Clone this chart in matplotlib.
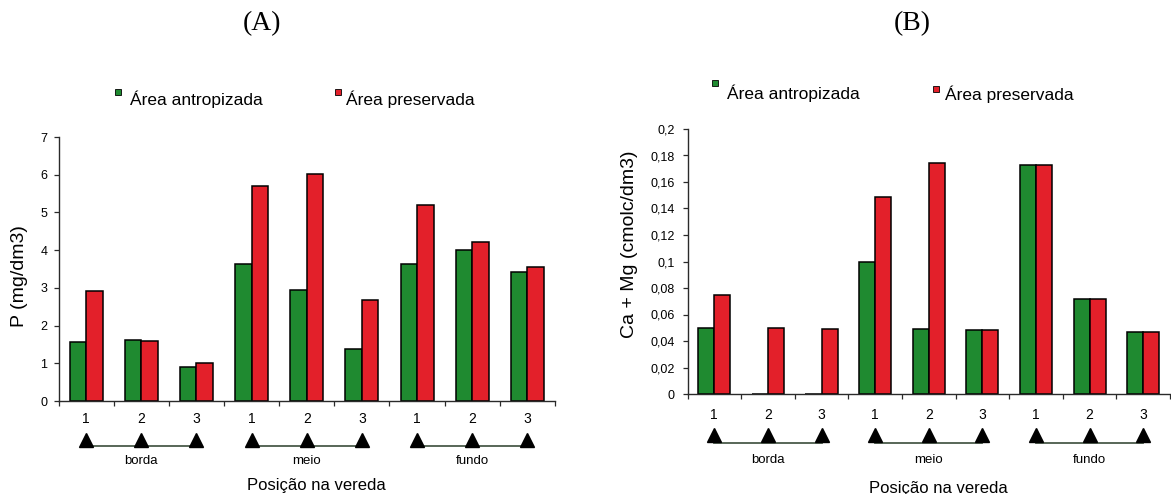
import numpy as np
import matplotlib
matplotlib.use("Agg")
import matplotlib.pyplot as plt
from matplotlib.patches import Rectangle
from matplotlib.transforms import blended_transform_factory

# ---------------- data ----------------
positions = ["1", "2", "3", "1", "2", "3", "1", "2", "3"]
groups = ["borda", "meio", "fundo"]
series_names = ["Área antropizada", "Área preservada"]

p_antropizada = [1.57, 1.63, 0.89, 3.63, 2.95, 1.38, 3.64, 4.01, 3.43]
p_preservada = [2.92, 1.59, 1.00, 5.69, 6.01, 2.69, 5.19, 4.22, 3.54]

camg_antropizada = [0.050, 0.0, 0.0, 0.100, 0.049, 0.048, 0.173, 0.072, 0.047]
camg_preservada = [0.075, 0.050, 0.049, 0.149, 0.174, 0.048, 0.173, 0.072, 0.047]

p_yticks = [0, 1, 2, 3, 4, 5, 6, 7]
camg_yticks = [0, 0.02, 0.04, 0.06, 0.08, 0.1, 0.12, 0.14, 0.16, 0.18, 0.2]
camg_yticklabels = ["0", "0,02", "0,04", "0,06", "0,08", "0,1", "0,12", "0,14",
                    "0,16", "0,18", "0,2"]

# ---------------- style ----------------
W, H = 1171, 494
GREEN = "#1f8a30"
RED = "#e3202a"
AXC = "#2a2a2a"
plt.rcParams["font.family"] = ["Liberation Sans", "DejaVu Sans"]

fig = plt.figure(figsize=(W / 100, H / 100), dpi=100)
fig.patch.set_facecolor("white")


def fx(px):
    return px / W


def fy(py):
    return (H - py) / H


def make_panel(rect_px, a_vals, b_vals, yticks, yticklabels, ylim, ylabel,
               ylabel_xy, tick_pad, ytick_pad, tri_y, line_y, grp_y, xlabel_xy,
               title, title_x, legend_px):
    x0, x1, y_top, y_zero = rect_px
    ax = fig.add_axes([fx(x0), fy(y_zero), fx(x1 - x0), (y_zero - y_top) / H])
    x = np.arange(len(positions))
    bw = 0.3
    ax.bar(x - bw / 2, a_vals, bw, color=GREEN, edgecolor="black", linewidth=1.1)
    ax.bar(x + bw / 2, b_vals, bw, color=RED, edgecolor="black", linewidth=1.1)
    ax.set_xlim(-0.5, len(positions) - 0.5)
    ax.set_ylim(*ylim)
    for s in ["top", "right"]:
        ax.spines[s].set_visible(False)
    for s in ["left", "bottom"]:
        ax.spines[s].set_color(AXC)
        ax.spines[s].set_linewidth(1.0)
    ax.set_yticks(yticks)
    ax.set_yticklabels(yticklabels)
    ax.tick_params(axis="y", direction="out", length=3.5, width=0.9,
                   colors=AXC, labelcolor="black", labelsize=9, pad=ytick_pad)
    ax.set_xticks(np.arange(-0.5, len(positions), 1.0))
    ax.set_xticklabels([])
    ax.tick_params(axis="x", which="major", direction="out", length=3.5,
                   width=0.9, colors=AXC)
    ax.set_xticks(x, minor=True)
    ax.set_xticklabels(positions, minor=True)
    ax.tick_params(axis="x", which="minor", length=0, labelsize=10,
                   pad=tick_pad)

    tr = blended_transform_factory(ax.transData, fig.transFigure)
    for gi, g in enumerate(groups):
        idx = x[gi * 3:(gi + 1) * 3]
        ax.plot([idx[0], idx[-1]], [fy(line_y), fy(line_y)], color="#4a5a4a",
                lw=1.3, transform=tr, clip_on=False)
        ax.plot(idx, [fy(tri_y)] * len(idx), linestyle="none", marker="^",
                ms=10, color="black", transform=tr, clip_on=False)
        ax.text(idx[1], fy(grp_y), g, transform=tr, ha="center", va="center",
                fontsize=9.5)

    fig.text(fx(xlabel_xy[0]), fy(xlabel_xy[1]), "Posição na vereda",
             ha="center", va="center", fontsize=12)
    fig.text(fx(ylabel_xy[0]), fy(ylabel_xy[1]), ylabel, rotation=90,
             ha="center", va="center", fontsize=14)
    fig.text(fx(title_x), fy(24), title, ha="center", va="center",
             fontsize=20, family=["Liberation Serif", "DejaVu Serif"])

    # legend
    for (sq_x, sq_y, tx, base), name, col in zip(legend_px, series_names,
                                                  [GREEN, RED]):
        fig.patches.append(Rectangle((fx(sq_x), fy(sq_y + 6)), fx(6), 6 / H,
                                     facecolor=col, edgecolor="black",
                                     linewidth=0.6, transform=fig.transFigure))
        fig.text(fx(tx), fy(base), name, ha="left", va="baseline",
                 fontsize=12.5)
    return ax


make_panel((58.5, 555, 137, 401), p_antropizada, p_preservada, p_yticks,
           [str(v) for v in p_yticks], (0, 7), "P (mg/dm3)", (20, 276),
           tick_pad=8.0, ytick_pad=4.5, tri_y=440, line_y=446, grp_y=461,
           xlabel_xy=(316, 485), title="(A)", title_x=262,
           legend_px=[(115, 89, 130, 105), (335, 89, 346, 105)])

make_panel((687.5, 1170, 129, 394), camg_antropizada, camg_preservada,
           camg_yticks, camg_yticklabels, (0, 0.2), "Ca + Mg (cmolc/dm3)",
           (629, 244), tick_pad=10.0, ytick_pad=5.5, tri_y=435, line_y=443,
           grp_y=460, xlabel_xy=(938, 488), title="(B)", title_x=912,
           legend_px=[(712, 80, 727, 99), (933, 86, 945, 100)])

fig.savefig("out.png", dpi=100, facecolor="white")
